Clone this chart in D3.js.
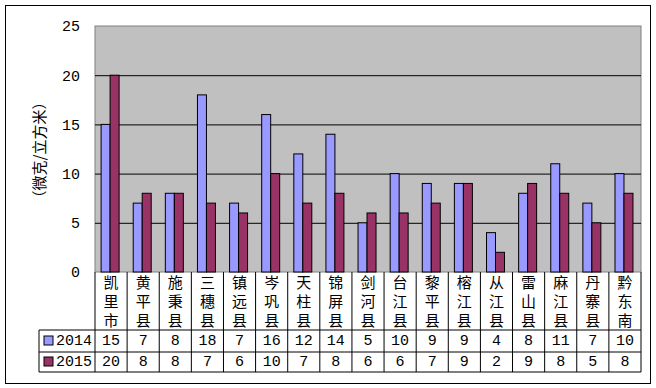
<!DOCTYPE html>
<html>
<head>
<meta charset="utf-8">
<script src="https://cdn.jsdelivr.net/npm/d3@7"></script>
<style>
body { margin: 0; background: #fff; }
svg text { font-family: "Noto Sans CJK SC", sans-serif; }
</style>
</head>
<body>
<svg id="chart" width="656" height="388"></svg>
<script>
var categories = ["凯里市", "黄平县", "施秉县", "三穗县", "镇远县", "岑巩县", "天柱县", "锦屏县", "剑河县", "台江县", "黎平县", "榕江县", "从江县", "雷山县", "麻江县", "丹寨县", "黔东南"];
var values2014 = [15, 7, 8, 18, 7, 16, 12, 14, 5, 10, 9, 9, 4, 8, 11, 7, 10];
var values2015 = [20, 8, 8, 7, 6, 10, 7, 8, 6, 6, 7, 9, 2, 9, 8, 5, 8];
var seriesNames = ["2014", "2015"];
var yTicks = [0, 5, 10, 15, 20, 25];

function drawChart() {
    var svg = d3.select("#chart");
    var colors = ["#9999FF", "#993366"];
    var plot = {left: 95, right: 641, top: 26, bottom: 272};
    var table = {left: 39, catBottom: 330, row1: 352, row2: 372};
    var numFont = "'Liberation Mono', monospace";

    // outer frame
    svg.append("rect")
        .attr("x", 5.5).attr("y", 5.5)
        .attr("width", 645).attr("height", 378)
        .attr("fill", "#fff").attr("stroke", "#000").attr("stroke-width", 1);

    var xScale = d3.scaleBand()
        .domain(categories)
        .range([plot.left, plot.right]);
    var yScale = d3.scaleLinear()
        .domain([0, 25])
        .range([plot.bottom, plot.top]);

    // plot area
    svg.append("rect")
        .attr("x", plot.left).attr("y", plot.top)
        .attr("width", plot.right - plot.left).attr("height", plot.bottom - plot.top)
        .attr("fill", "#C0C0C0").attr("stroke", "#808080");

    // gridlines
    svg.append("g")
        .attr("transform", "translate(" + plot.left + ",0)")
        .call(d3.axisLeft(yScale).tickValues(yTicks.slice(1, 5)).tickSize(-(plot.right - plot.left)).tickFormat(""))
        .call(function(g) {
            g.select(".domain").remove();
            g.selectAll("line").attr("stroke", "#000").attr("stroke-width", 1);
        });

    // y axis labels
    var yAxis = svg.append("g")
        .attr("transform", "translate(" + (plot.left - 15) + ",0)")
        .call(d3.axisLeft(yScale).tickValues(yTicks).tickSize(0).tickPadding(0));
    yAxis.select(".domain").remove();
    yAxis.selectAll("text")
        .attr("font-size", 15)
        .attr("fill", "#000")
        .style("font-family", numFont);

    // y title
    svg.append("text")
        .attr("transform", "translate(38,150) rotate(-90)")
        .attr("text-anchor", "middle")
        .attr("dominant-baseline", "central")
        .attr("font-size", 15)
        .text("（微克/立方米）");

    // bars
    var bw = xScale.bandwidth();
    var barW = bw * 0.28;
    var barOff = bw * 0.19;
    [values2014, values2015].forEach(function(vals, s) {
        svg.append("g").selectAll("rect").data(vals).enter()
            .append("rect")
            .attr("x", function(d, i) { return xScale(categories[i]) + barOff + s * barW; })
            .attr("y", function(d) { return yScale(d); })
            .attr("width", barW)
            .attr("height", function(d) { return yScale(0) - yScale(d); })
            .attr("fill", colors[s])
            .attr("stroke", "#000")
            .attr("stroke-width", 1);
    });

    // data table lines
    var lines = svg.append("g").attr("stroke", "#000").attr("stroke-width", 1);
    lines.append("line").attr("x1", table.left).attr("x2", plot.right).attr("y1", table.catBottom).attr("y2", table.catBottom);
    lines.append("line").attr("x1", table.left).attr("x2", plot.right).attr("y1", table.row1).attr("y2", table.row1);
    lines.append("line").attr("x1", table.left).attr("x2", plot.right).attr("y1", table.row2).attr("y2", table.row2);
    lines.append("line").attr("x1", table.left).attr("x2", table.left).attr("y1", table.catBottom).attr("y2", table.row2);
    categories.forEach(function(c) {
        lines.append("line")
            .attr("x1", xScale(c)).attr("x2", xScale(c))
            .attr("y1", plot.bottom).attr("y2", table.row2);
    });
    lines.append("line").attr("x1", plot.right).attr("x2", plot.right).attr("y1", plot.bottom).attr("y2", table.row2);

    // category labels, stacked vertically
    var cat = svg.append("g").selectAll("text").data(categories).enter()
        .append("text")
        .attr("text-anchor", "middle")
        .attr("font-size", 15);
    cat.each(function(d) {
        var t = d3.select(this);
        d.split("").forEach(function(ch, k) {
            t.append("tspan")
                .attr("x", xScale(d) + bw / 2)
                .attr("y", 288 + k * 19)
                .text(ch);
        });
    });

    // table rows
    var rowY = [(table.catBottom + table.row1) / 2, (table.row1 + table.row2) / 2];
    [values2014, values2015].forEach(function(vals, s) {
        svg.append("rect")
            .attr("x", 44).attr("y", rowY[s] - 5)
            .attr("width", 9).attr("height", 9)
            .attr("fill", colors[s]).attr("stroke", "#000");
        svg.append("text")
            .attr("x", 56).attr("y", rowY[s])
            .attr("dominant-baseline", "central")
            .attr("font-size", 15)
            .style("font-family", numFont)
            .text(seriesNames[s]);
        svg.append("g").selectAll("text").data(vals).enter()
            .append("text")
            .attr("x", function(d, i) { return xScale(categories[i]) + bw / 2; })
            .attr("y", rowY[s])
            .attr("text-anchor", "middle")
            .attr("dominant-baseline", "central")
            .attr("font-size", 15)
            .style("font-family", numFont)
            .text(function(d) { return d; });
    });
}

drawChart();
</script>
</body>
</html>
